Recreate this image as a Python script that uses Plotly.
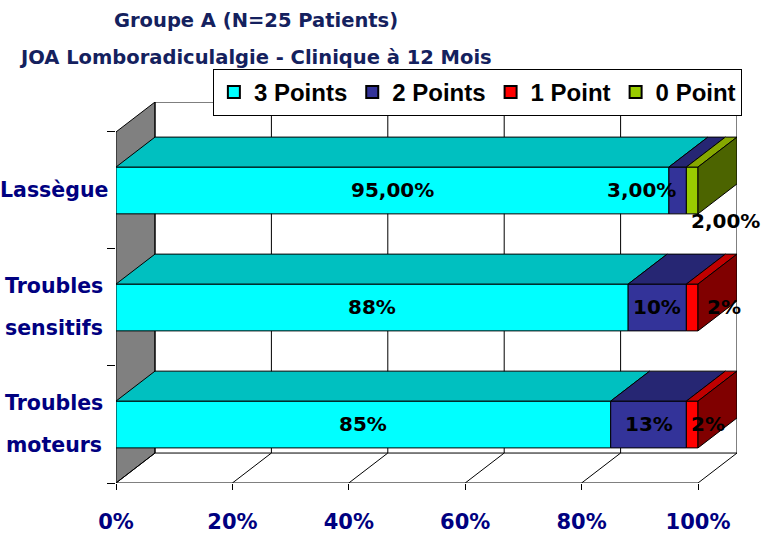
import plotly.graph_objects as go

# ---------------- data ----------------
categories = ["Troubles moteurs", "Troubles sensitifs", "Lassègue"]   # bottom -> top
cat_lines = [["Troubles", "moteurs"], ["Troubles", "sensitifs"], ["Lassègue"]]
series_names = ["3 Points", "2 Points", "1 Point", "0 Point"]
pts3 = [85, 88, 95]
pts2 = [13, 10, 3]
pts1 = [2, 2, 0]
pts0 = [0, 0, 2]
label_decimals = [0, 0, 2]
x_ticks = [0, 20, 40, 60, 80, 100]
title_lines = ["Groupe A (N=25 Patients)", "JOA Lomboradiculalgie - Clinique à 12 Mois"]

# ---------------- style ----------------
front_col = ["#00FFFF", "#333399", "#FF0000", "#99CC00"]
top_col = ["#00C0C0", "#262673", "#C00000", "#86A800"]
side_col = ["#008080", "#1A1A4D", "#800000", "#4C6400"]
NAVY = "#000080"
TITLE_COL = "#14215E"
FONT = "DejaVu Sans"

DX = 6.70     # depth offset in x data units
DY = 0.256    # depth offset in y data units
H = 0.40      # bar thickness (category units)

values = [pts3, pts2, pts1, pts0]
ncat = len(categories)

fig = go.Figure()

def poly_trace(polys, fill, width=1, color="black"):
    xs, ys = [], []
    for p in polys:
        xs += [q[0] for q in p] + [p[0][0], None]
        ys += [q[1] for q in p] + [p[0][1], None]
    return go.Scatter(x=xs, y=ys, mode="lines", fill="toself" if fill else None,
                      fillcolor=fill, line=dict(color=color, width=width),
                      hoverinfo="skip", showlegend=False)

y0, y1 = -0.5, ncat - 0.5
# left wall
fig.add_trace(poly_trace([[(0, y0), (DX, y0 + DY), (DX, y1 + DY), (0, y1)]], "#808080"))
# back wall grid lines + top border
grid = [[(v + DX, y0 + DY), (v + DX, y1 + DY)] for v in x_ticks]
xs, ys = [], []
for g in grid:
    xs += [g[0][0], g[1][0], None]
    ys += [g[0][1], g[1][1], None]
xs += [DX, x_ticks[-1] + DX, None]; ys += [y1 + DY, y1 + DY, None]
# floor lines
for v in x_ticks:
    xs += [v, v + DX, None]; ys += [y0, y0 + DY, None]
xs += [DX, x_ticks[-1] + DX, None]; ys += [y0 + DY, y0 + DY, None]
xs += [0, x_ticks[-1], None]; ys += [y0, y0, None]
fig.add_trace(go.Scatter(x=xs, y=ys, mode="lines", line=dict(color="black", width=1),
                         hoverinfo="skip", showlegend=False))

# bars
annotations = []
label_shift = {(1, 2): (-36, 0), (3, 2): (33, -31), (2, 1): (32, 0), (2, 0): (16, 0)}
fronts = [[] for _ in values]
tops = [[] for _ in values]
sides = [[] for _ in values]
for i in range(ncat):
    last = max(k for k in range(len(values)) if values[k][i] > 0)
    s = 0
    for k, ser in enumerate(values):
        v = ser[i]
        if v <= 0:
            continue
        e = s + v
        b, t = i - H / 2, i + H / 2
        fronts[k].append([(s, b), (e, b), (e, t), (s, t)])
        tops[k].append([(s, t), (e, t), (e + DX, t + DY), (s + DX, t + DY)])
        if k == last:
            sides[k].append([(e, b), (e + DX, b + DY), (e + DX, t + DY), (e, t)])
        d = label_decimals[i]
        txt = f"{v:.{d}f}%".replace(".", ",")
        xsft, ysft = label_shift.get((k, i), (0, 0))
        annotations.append(dict(x=(s + e) / 2, y=i, xref="x", yref="y", text=f"<b>{txt}</b>",
                                showarrow=False, xshift=xsft, yshift=ysft,
                                font=dict(family=FONT, size=20, color="black")))
        s = e

for k in range(len(values)):
    if fronts[k]:
        fig.add_trace(poly_trace(fronts[k], front_col[k]))
        fig.add_trace(poly_trace(tops[k], top_col[k]))
    if sides[k]:
        fig.add_trace(poly_trace(sides[k], side_col[k]))

# legend entries
for k, name in enumerate(series_names):
    fig.add_trace(go.Scatter(x=[None], y=[None], mode="markers", name=f"<b>{name}</b>",
                             marker=dict(symbol="square", size=15, color=front_col[k],
                                         line=dict(color="black", width=1))))

# category labels
for i, lines in enumerate(cat_lines):
    n = len(lines)
    for j, ln in enumerate(lines):
        annotations.append(dict(x=-0.1, xref="paper", y=i, yref="y",
                                yshift=(n - 1) * 21 - j * 42, text=f"<b>{ln}</b>",
                                showarrow=False, xanchor="center",
                                font=dict(family=FONT, size=20.5, color=NAVY)))
# titles
for j, tl in enumerate(title_lines):
    annotations.append(dict(x=0.2254, xref="paper", y=[1.215, 1.1155][j], yref="paper",
                            text=f"<b>{tl}</b>", showarrow=False, xanchor="center",
                            yanchor="middle", font=dict(family=FONT, size=19.5, color=TITLE_COL)))

fig.update_layout(
    width=769, height=540,
    margin=dict(l=116, r=32, t=102, b=57, autoexpand=False),
    paper_bgcolor="white", plot_bgcolor="white",
    annotations=annotations,
    showlegend=True,
    legend=dict(orientation="h", x=0.156, y=1.087, xanchor="left", yanchor="top",
                bgcolor="white", bordercolor="black", borderwidth=1,
                font=dict(family="Liberation Sans", size=24, color="black", weight="bold"),
                traceorder="normal", itemsizing="constant"),
    xaxis=dict(range=[0, x_ticks[-1] + DX], showgrid=False, zeroline=False, showline=False,
               tickvals=x_ticks, ticktext=[f"<b>{v}%</b>" for v in x_ticks],
               ticks="outside", ticklen=6, tickcolor="black",
               tickfont=dict(family=FONT, size=21, color=NAVY), ticklabelstandoff=14,
               fixedrange=True),
    yaxis=dict(range=[y0, y1 + DY], showgrid=False, zeroline=False, showline=False,
               tickvals=[y0 + j for j in range(ncat + 1)], ticks="outside", ticklen=8,
               tickcolor="black", showticklabels=False, fixedrange=True),
)

fig.write_html("out.html", config={"displayModeBar": False},
               post_script="document.body.style.margin='0';document.body.style.overflow='hidden';")
